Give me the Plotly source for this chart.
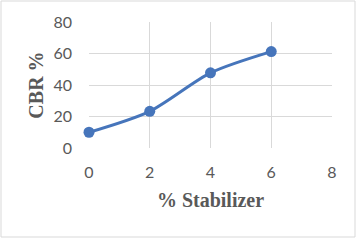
import plotly.graph_objects as go

stabilizer = [0, 2, 4, 6]
cbr = [10, 23.3, 47.7, 61.2]
x_ticks = [0, 2, 4, 6, 8]
y_ticks = [0, 20, 40, 60, 80]

fig = go.Figure()
fig.add_trace(go.Scatter(
    x=stabilizer, y=cbr, mode="lines+markers",
    line=dict(color="#4675BB", width=3, shape="spline", smoothing=0.8),
    marker=dict(color="#4675BB", size=11),
    showlegend=False, cliponaxis=False,
))

tick_font = dict(family="Lato, Carlito, sans-serif", size=16, color="#595959")
title_font = dict(family="Liberation Serif, Times New Roman, serif", size=20, color="#595959")

fig.update_layout(
    width=364, height=240,
    margin=dict(l=89, r=32, t=22, b=92),
    paper_bgcolor="white", plot_bgcolor="white",
    xaxis=dict(range=[0, 8], tickvals=x_ticks, showgrid=True, gridcolor="#D9D9D9", gridwidth=1,
               zeroline=False, showline=False, ticks="", tickfont=tick_font,
               ticklabelstandoff=13,
               title=dict(text="<b>% Stabilizer</b>", font=title_font, standoff=12)),
    yaxis=dict(range=[0, 80], tickvals=y_ticks, showgrid=True, gridcolor="#D9D9D9", gridwidth=1,
               zeroline=False, showline=False, ticks="", tickfont=tick_font,
               ticklabelstandoff=16,
               title=dict(text="<b>CBR %</b>", font=title_font, standoff=4)),
    shapes=[dict(type="rect", xref="paper", yref="paper", x0=-88/243, x1=(355-89)/243,
                 y0=-(237-148)/126, y1=1+21/126,
                 line=dict(color="#D9D9D9", width=1), fillcolor="rgba(0,0,0,0)", layer="below")],
)

fig.write_html("out.html")
